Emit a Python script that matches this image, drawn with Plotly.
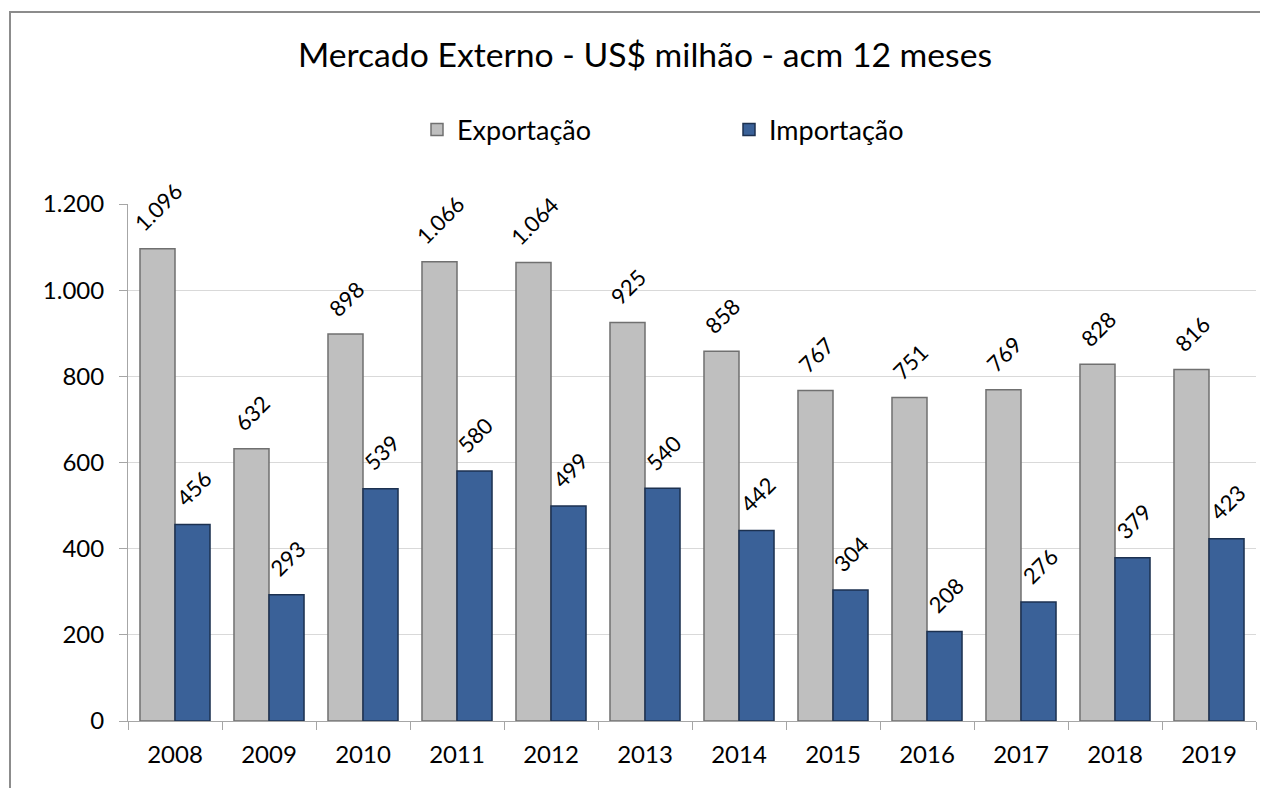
import plotly.graph_objects as go

years = ["2008", "2009", "2010", "2011", "2012", "2013", "2014", "2015", "2016", "2017", "2018", "2019"]
exportacao = [1096, 632, 898, 1066, 1064, 925, 858, 767, 751, 769, 828, 816]
importacao = [456, 293, 539, 580, 499, 540, 442, 304, 208, 276, 379, 423]

FONT = "Lato"

# page offset of 8px (browser body margin) is compensated here
W, H = 1260, 780
L, R, T, B = 120, 12, 196, 67
pw, ph = W - L - R, H - T - B
BARGAP = 0.255


def px_x(p):
    return (p - L) / pw


def px_y(p):
    return (H - B - p) / ph


def fmt(v):
    return f"{v:,}".replace(",", ".")


fig = go.Figure()
fig.add_trace(go.Bar(
    name="Exportação", x=years, y=exportacao,
    marker=dict(color="#BFBFBF", line=dict(color="#707070", width=1.5)),
    cliponaxis=False,
))
fig.add_trace(go.Bar(
    name="Importação", x=years, y=importacao,
    marker=dict(color="#3A6198", line=dict(color="#1C3150", width=1.5)),
    cliponaxis=False,
))

# data labels, rotated, placed above each bar (x given as category index)
cat_w = pw / len(years)
half = cat_w * (1 - BARGAP) / 4
for series, shift in ((exportacao, -half), (importacao, half)):
    for i, v in enumerate(series):
        fig.add_annotation(x=i, y=v, xref="x", yref="y", text=fmt(v),
                           showarrow=False, textangle=-45,
                           xanchor="center", yanchor="bottom",
                           xshift=shift + 1, yshift=10,
                           font=dict(size=22, family=FONT, color="black"))

fig.update_layout(
    width=W, height=H,
    margin=dict(l=L, r=R, t=T, b=B, autoexpand=False),
    paper_bgcolor="white", plot_bgcolor="white",
    separators=",.",
    barmode="group", bargap=BARGAP, bargroupgap=0,
    font=dict(family=FONT, color="black"),
    title=dict(text="Mercado Externo - US$ milhão - acm 12 meses",
               x=637 / W, xanchor="center", xref="container",
               y=1 - 47 / H, yanchor="middle", yref="container",
               font=dict(size=33.7, family=FONT, color="black")),
    legend=dict(orientation="h", x=px_x(409), xanchor="left",
                y=px_y(122), yanchor="middle",
                font=dict(size=27, family=FONT, color="black"),
                entrywidth=267, entrywidthmode="pixels",
                itemwidth=30, traceorder="normal"),
    showlegend=True,
)

fig.update_xaxes(type="category", categoryorder="array", categoryarray=years,
                 range=[-0.5, len(years) - 0.5], autorange=False,
                 showline=True, linecolor="#A6A6A6", linewidth=1,
                 ticks="outside", tickson="boundaries", ticklen=8, tickcolor="#A6A6A6",
                 tickfont=dict(size=24, family=FONT, color="black"),
                 ticklabelstandoff=12,
                 tickangle=0, showgrid=False)
fig.update_yaxes(range=[0, 1200], autorange=False, dtick=200, tickformat=",d",
                 showline=True, linecolor="#A6A6A6", linewidth=1,
                 ticks="outside", ticklen=8, tickcolor="#A6A6A6",
                 tickfont=dict(size=24, family=FONT, color="black"),
                 ticklabelstandoff=10,
                 showgrid=True, gridcolor="#D9D9D9", gridwidth=1,
                 zeroline=False)

fig.add_shape(type="rect", xref="paper", yref="paper",
              x0=px_x(2), x1=px_x(1300), y0=px_y(830), y1=px_y(4),
              line=dict(color="#8C8C8C", width=2), fillcolor="rgba(0,0,0,0)",
              layer="below")

fig.write_html("out.html")
